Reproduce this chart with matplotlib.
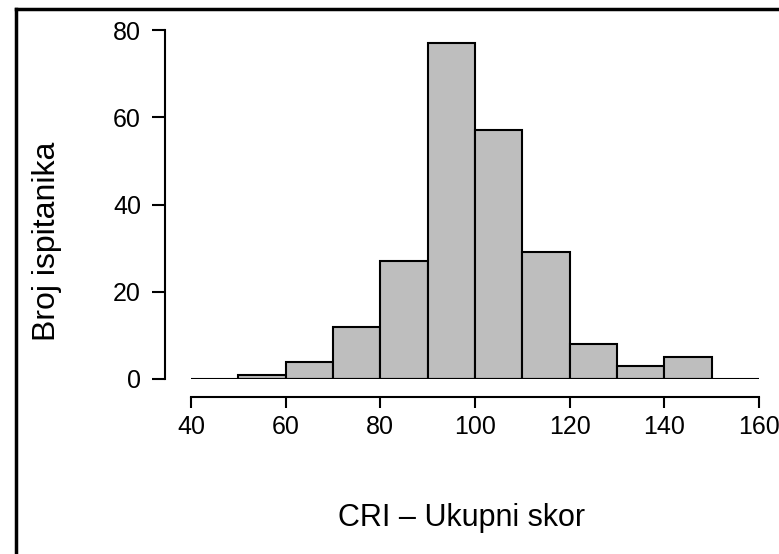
import numpy as np
import matplotlib
matplotlib.use("Agg")
import matplotlib.pyplot as plt
from matplotlib.lines import Line2D

plt.rcParams['font.family'] = ['Liberation Sans', 'DejaVu Sans']

bin_edges = [50, 60, 70, 80, 90, 100, 110, 120, 130, 140, 150]
counts = [1, 4, 12, 27, 77, 57, 29, 8, 3, 5]
x_ticks = [40, 60, 80, 100, 120, 140, 160]
y_ticks = [0, 20, 40, 60, 80]
x_label = "CRI \u2013 Ukupni skor"
y_label = "Broj ispitanika"

W, H = 779, 554
px = 72 / 100  # pixels -> points
fig = plt.figure(figsize=(W / 100, H / 100), dpi=100)
ax = fig.add_axes([191 / W, 1 - 379 / H, (759 - 191) / W, (379 - 30) / H])

edges = np.array(bin_edges)
ax.bar(edges[:-1], counts, width=np.diff(edges), align='edge',
       color='#bebebe', edgecolor='black', linewidth=1.5, zorder=2)
ax.axhline(0, color='black', linewidth=1.5, zorder=3)

ax.set_xlim(x_ticks[0], x_ticks[-1])
ax.set_ylim(y_ticks[0], y_ticks[-1])
ax.set_xticks(x_ticks)
ax.set_yticks(y_ticks)
ax.tick_params(labelsize=18, width=1.5, color='black')
ax.tick_params(axis='x', length=11 * px, pad=5)
ax.tick_params(axis='y', length=13 * px, pad=8)

for s in ['top', 'right']:
    ax.spines[s].set_visible(False)
ax.spines['bottom'].set_position(('outward', 18 * px))
ax.spines['left'].set_position(('outward', 26 * px))
ax.spines['bottom'].set_bounds(x_ticks[0], x_ticks[-1])
ax.spines['left'].set_bounds(y_ticks[0], y_ticks[-1])
for s in ['bottom', 'left']:
    ax.spines[s].set_linewidth(1.5)

fig.text(462 / W, 1 - 518 / H, x_label, ha='center', va='center', fontsize=22)
fig.text(47 / W, 1 - 241 / H, y_label, ha='center', va='center',
         rotation=90, fontsize=23)

# outer frame (top and left edges only are visible)
fig.add_artist(Line2D([16 / W, 16 / W], [0, 1 - 9 / H], transform=fig.transFigure,
                      color='black', linewidth=2.5))
fig.add_artist(Line2D([16 / W, 1], [1 - 9 / H, 1 - 9 / H], transform=fig.transFigure,
                      color='black', linewidth=2.5))

fig.savefig("out.png", dpi=100)
